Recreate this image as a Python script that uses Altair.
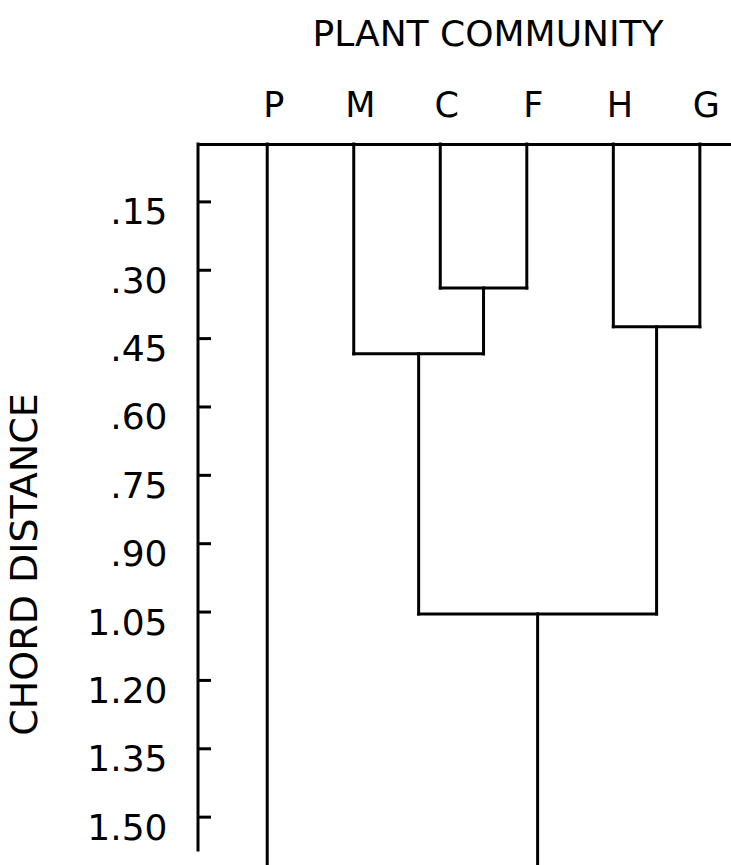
import altair as alt
import pandas as pd

# ---- data ----
leaves = ["P", "M", "C", "F", "H", "G"]
merge_left = ["C", "H", "M", "MCF"]
merge_right = ["F", "G", "CF", "HG"]
merge_name = ["CF", "HG", "MCF", "MCFHG"]
merge_height = [0.339, 0.424, 0.4835, 1.054]
tick_values = [0.15, 0.30, 0.45, 0.60, 0.75, 0.90, 1.05, 1.20, 1.35, 1.50]

title_text = "PLANT COMMUNITY"
y_title = "CHORD DISTANCE"

# scale domains (visible window of the original plot)
Y_DOMAIN = [0.023, 1.605]
X_DOMAIN = [-0.8, 5.36]
AXIS_END = 1.572

# ---- build dendrogram segments ----
pos = {name: float(i) for i, name in enumerate(leaves)}
height = {name: Y_DOMAIN[0] for name in leaves}
parent = {}
for l, r, n, h in zip(merge_left, merge_right, merge_name, merge_height):
    pos[n] = (pos[l] + pos[r]) / 2
    height[n] = h
    parent[l] = n
    parent[r] = n

rows = []
for node in list(leaves) + merge_name:
    top = height[node]
    bottom = height[parent[node]] if node in parent else Y_DOMAIN[1]
    rows.append({"x": pos[node], "x2": pos[node], "y": top, "y2": bottom})
for l, r, h in zip(merge_left, merge_right, merge_height):
    rows.append({"x": pos[l], "x2": pos[r], "y": h, "y2": h})
segs = pd.DataFrame(rows)

label_array = "[" + ",".join("'%s'" % s for s in leaves) + "]"

x_scale = alt.Scale(domain=X_DOMAIN, nice=False, zero=False)
y_scale = alt.Scale(domain=Y_DOMAIN, reverse=True, nice=False, zero=False)

FONT = "DejaVu Sans"

dendro = alt.Chart(segs).mark_rule(
    color="black", strokeWidth=3, strokeCap="square"
).encode(
    x=alt.X(
        "x:Q",
        scale=x_scale,
        axis=alt.Axis(
            orient="top",
            values=list(range(len(leaves))),
            labelExpr=label_array + "[datum.value]",
            ticks=False,
            tickSize=0,
            grid=False,
            domain=True,
            domainColor="black",
            domainWidth=3,
            labelFont=FONT,
            labelFontSize=35,
            labelColor="black",
            labelBaseline="alphabetic",
            labelPadding=28,
            labelOffset=6,
            labelFlush=False,
            labelOverlap=False,
            title=None,
        ),
    ),
    x2="x2:Q",
    y=alt.Y(
        "y:Q",
        scale=y_scale,
        axis=alt.Axis(
            values=tick_values,
            labelExpr="datum.value < 1 ? substring(format(datum.value, '.2f'), 1) : format(datum.value, '.2f')",
            ticks=False,
            tickSize=0,
            domain=False,
            grid=False,
            labelFont=FONT,
            labelFontSize=36,
            labelColor="black",
            labelBaseline="top",
            labelAlign="right",
            labelPadding=31,
            labelOffset=-6,
            labelOverlap=False,
            labelFlush=False,
            title=y_title,
            titleFont=FONT,
            titleFontSize=38,
            titleFontWeight="normal",
            titleColor="black",
            titleAngle=270,
            titleAlign="center",
            titleBaseline="alphabetic",
            titleX=-162,
            titleY=420,
        ),
    ),
    y2="y2:Q",
)

ticks = alt.Chart(pd.DataFrame({"y": tick_values})).mark_rule(
    color="black", strokeWidth=3
).encode(
    x=alt.value(0),
    x2=alt.value(13),
    y=alt.Y("y:Q", scale=y_scale),
)

left_axis = alt.Chart(pd.DataFrame({"y": [Y_DOMAIN[0]], "y2": [AXIS_END]})).mark_rule(
    color="black", strokeWidth=3, strokeCap="square"
).encode(
    x=alt.value(0),
    y=alt.Y("y:Q", scale=y_scale),
    y2="y2:Q",
)

title = alt.Chart(pd.DataFrame({"t": [title_text]})).mark_text(
    font=FONT, fontSize=36, color="black", baseline="alphabetic", align="center"
).encode(
    x=alt.value(290),
    y=alt.value(-98),
    text="t:N",
)

chart = alt.layer(dendro, ticks, left_axis, title).properties(
    width=533,
    height=721,
    padding={"left": 198, "top": 144, "right": 0, "bottom": 0},
    autosize=alt.AutoSizeParams(type="none"),
    background="white",
).configure_view(stroke=None)

chart.save("out.html", embed_options={"renderer": "svg", "actions": False})
